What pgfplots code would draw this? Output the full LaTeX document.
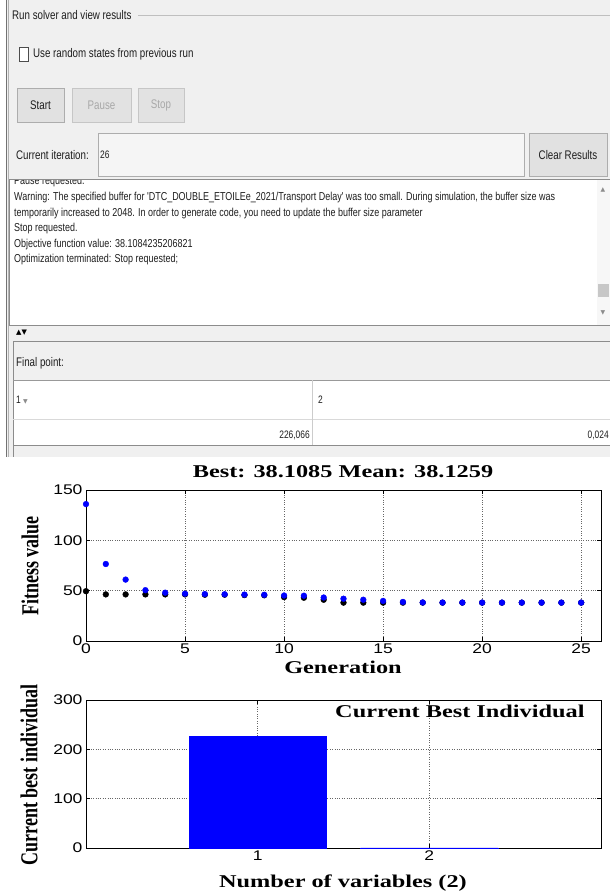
\documentclass[border=0pt]{standalone}
\usepackage{fontspec}
\usepackage{pgfplots}
\usepackage{pgfplotstable}
\usepackage{graphicx}
\pgfplotsset{compat=1.18}
\setmainfont{Liberation Serif}
\newfontfamily\tnr[FakeStretch=1.35]{Liberation Serif}
\newfontfamily\tnrplain{Liberation Serif}
\newfontfamily\ari[FakeStretch=1.25]{Liberation Sans}
\newfontfamily\gui[FakeStretch=0.78]{Liberation Sans}
\newfontfamily\dejavu{DejaVu Sans}
\definecolor{guibg}{HTML}{F0F0F0}
\definecolor{btnfill}{HTML}{E1E1E1}
\definecolor{btnborder}{HTML}{ADADAD}
\definecolor{guitext}{HTML}{1E1E1E}
\definecolor{disabled}{HTML}{A8A8A8}
\definecolor{mblue}{rgb}{0,0,1}

\pgfplotstableread{
g best mean
0 49.5 136.0
1 46.3 76.5
2 46.3 61.0
3 46.3 50.5
4 46.3 48.0
5 46.3 47.0
6 46.0 46.6
7 46.0 46.4
8 45.6 46.1
9 45.4 45.9
10 43.6 45.2
11 43.0 45.0
12 41.0 43.2
13 38.11 42.0
14 38.11 41.0
15 38.11 39.8
16 38.11 38.8
17 38.11 38.3
18 38.11 38.2
19 38.11 38.2
20 38.11 38.15
21 38.11 38.14
22 38.11 38.13
23 38.11 38.13
24 38.11 38.13
25 38.11 38.13
}\fitdata

\pgfplotstableread{
var value
1 226.066
2 0.024
}\bestind

\newcommand{\guif}{\gui\fontsize{12.5bp}{14bp}\selectfont\color{guitext}}
\newcommand{\msgf}{\gui\fontsize{11.5bp}{13bp}\selectfont\color{guitext}}
\newcommand{\numf}{\gui\fontsize{10.8bp}{12bp}\selectfont\color{guitext}}
\newcommand{\lblf}{\tnr\bfseries\fontsize{18bp}{20bp}\selectfont}

\begin{document}
\begin{tikzpicture}
\path[use as bounding box] (0,0) rectangle (610bp,-894bp);
\begin{scope}[x=1bp,y=-1bp]
\fill[white] (0,0) rectangle (610,894);
% ---------- GUI panel ----------
\fill[guibg] (7,0) rectangle (610,457);
\draw[black!55, line width=1bp] (6,0) -- (6,457);
\draw[black!30, line width=0.8bp] (8.5,0) -- (8.5,457);
\node[anchor=west, inner sep=0, font=\guif] at (12,15) {Run solver and view results};
\draw[black!25, line width=0.6bp] (138,15) -- (610,15);
% checkbox
\draw[fill=white, draw=black!70, line width=0.7bp] (19.5,47.5) rectangle (28.5,61);
\node[anchor=west, inner sep=0, font=\guif] at (33,54) {Use random states from previous run};
% buttons
\draw[fill=btnfill, draw=btnborder, line width=0.8bp] (17,88) rectangle (64,122);
\node[font=\guif] at (40.5,105) {Start};
\draw[fill=btnfill!95!white, draw=btnborder!70, line width=0.8bp] (72,88) rectangle (131,122);
\node[font=\guif\color{disabled}] at (101.5,105) {Pause};
\draw[fill=btnfill!95!white, draw=btnborder!70, line width=0.8bp] (138,88) rectangle (184,122);
\node[font=\guif\color{disabled}] at (161,105) {Stop};
% current iteration
\node[anchor=west, inner sep=0, font=\guif] at (16,155) {Current iteration:};
\draw[fill=white!96!black, draw=btnborder, line width=0.8bp] (98,133) rectangle (524,176);
\node[anchor=west, inner sep=0, font=\numf] at (100,155) {26};
\draw[fill=btnfill, draw=btnborder, line width=0.8bp] (529,133) rectangle (607,176);
\node[font=\guif] at (568,155) {Clear Results};
% message area
\fill[white] (9,179) rectangle (610,325);
\begin{scope}
\clip (9,179.5) rectangle (597,325);
\node[anchor=west, inner sep=0, font=\msgf] at (14,181.5) {Pause requested.};
\node[anchor=west, inner sep=0, font=\msgf] at (14,198) {Warning: The specified buffer for 'DTC\_DOUBLE\_ETOILEe\_2021/Transport Delay' was too small. During simulation, the buffer size was};
\node[anchor=west, inner sep=0, font=\msgf] at (14,213.5) {temporarily increased to 2048. In order to generate code, you need to update the buffer size parameter};
\node[anchor=west, inner sep=0, font=\msgf] at (14,229) {Stop requested.};
\node[anchor=west, inner sep=0, font=\msgf] at (14,244.5) {Objective function value: 38.1084235206821};
\node[anchor=west, inner sep=0, font=\msgf] at (14,260) {Optimization terminated: Stop requested;};
\end{scope}
\draw[black!45, line width=0.8bp] (9,179) rectangle (610,325);
% scrollbar
\fill[white!97!black] (597,180) rectangle (609.5,324.5);
\node[font=\dejavu\fontsize{6bp}{7bp}\selectfont\color{black!45}] at (603,190) {▲};
\fill[black!22] (598,284) rectangle (609,297);
\node[font=\dejavu\fontsize{6bp}{7bp}\selectfont\color{black!45}] at (603,313) {▼};
% splitter
\node[anchor=west, inner sep=0, font=\dejavu\bfseries\fontsize{7bp}{8bp}\selectfont] at (16,332.5) {▲▼};
% final point panel
\fill[guibg] (13,341) rectangle (610,380);
\fill[white] (13,380) rectangle (610,445);
\draw[black!45, line width=0.8bp] (13,341) -- (610,341);
\draw[black!45, line width=0.8bp] (13,341) -- (13,457);
\draw[black!40, line width=0.8bp] (13,380) -- (610,380);
\draw[black!15, line width=0.6bp] (13,419) -- (610,419);
\draw[black!20, line width=0.6bp] (312,380) -- (312,445);
\draw[black!45, line width=0.8bp] (13,445) -- (610,445);
\node[anchor=west, inner sep=0, font=\guif] at (16,363) {Final point:};
\node[anchor=west, inner sep=0, font=\numf] at (16,400) {1 \textcolor{black!45}{\dejavu\fontsize{6bp}{7bp}\selectfont ▼}};
\node[anchor=west, inner sep=0, font=\numf] at (318,400) {2};
\node[anchor=east, inner sep=0, font=\numf] at (310,435) {226,066};
\node[anchor=east, inner sep=0, font=\numf] at (609,435) {0,024};
% ---------- plot labels ----------
\node[font=\lblf] at (343,472) {Best: 38.1085 Mean: 38.1259};
\node[font=\lblf] at (343,667) {Generation};
\node[rotate=90, font=\tnrplain\bfseries\fontsize{18bp}{20bp}\selectfont] at (30,566) {\scalebox{1}[1.35]{Fitness value}};
\node[rotate=90, font=\tnrplain\bfseries\fontsize{18bp}{20bp}\selectfont] at (29,775) {\scalebox{1}[1.35]{Current best individual}};
\node[font=\lblf] at (343,883) {Number of variables (2)};
\end{scope}

\pgfplotsset{matlabaxis/.style={
  scale only axis, anchor=south west,
  axis line style={black, line width=0.9bp},
  tick align=inside, major tick length=4bp,
  tick style={black, line width=0.6bp},
  grid=major, grid style={dotted, black!60, line width=0.5bp},
  ticklabel style={font=\ari\fontsize{14bp}{15bp}\selectfont},
  /pgf/number format/assume math mode=true,
  xticklabel style={yshift=1bp},
}}

% Fitness plot
\begin{axis}[matlabaxis, at={(86bp,-641bp)}, width=515bp, height=151bp,
  xmin=0, xmax=26, ymin=0, ymax=150,
  xtick={0,5,10,15,20,25}, ytick={0,50,100,150}]
\addplot[only marks, mark=*, mark size=2.9bp, black] table[x=g, y=best] {\fitdata};
\addplot[only marks, mark=*, mark size=2.9bp, mblue, mark options={draw=mblue, fill=mblue}] table[x=g, y=mean] {\fitdata};
\end{axis}

% Current best individual
\begin{axis}[matlabaxis, at={(86bp,-848bp)}, width=515bp, height=148bp,
  xmin=0, xmax=3, ymin=0, ymax=300,
  xtick={1,2}, ytick={0,100,200,300}]
\addplot[ybar, bar width=0.8, fill=mblue, draw=mblue, line width=0.6bp] table[x=var, y=value] {\bestind};
\node[font=\lblf] at (rel axis cs:0.726,0.92) {Current Best Individual};
\end{axis}
\end{tikzpicture}
\end{document}
